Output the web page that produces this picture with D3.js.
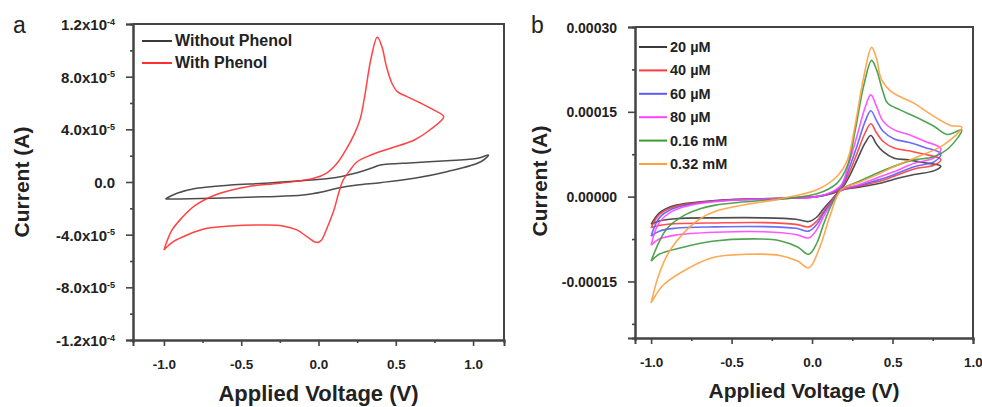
<!DOCTYPE html>
<html><head><meta charset="utf-8">
<script src="https://cdn.jsdelivr.net/npm/d3@7"></script>
<style>
body{margin:0;background:#fff}
svg{display:block;font-family:"Liberation Sans",Arial,sans-serif}
</style></head><body>
<svg id="chart" width="982" height="407"></svg>
<script>
// ---- Panel a: CV with / without phenol (current in units of 1e-5 A) ----
const seriesA = ["Without Phenol", "With Phenol"];
const colorsA = ["#3a3a3a", "#ff3030"];
const withoutPhenol = [
  [-0.99,-1.29],[-0.915,-0.86],[-0.79,-0.48],[-0.57,-0.23],[-0.35,-0.1],[-0.14,0.08],[0.076,0.28],
  [0.25,0.71],[0.34,1.04],[0.40,1.29],[0.615,1.47],[0.83,1.62],[1.03,1.8],[1.10,2.05],
  [1.05,1.54],[0.83,0.78],[0.62,0.28],[0.40,-0.05],[0.25,-0.23],[0.12,-0.48],[0.03,-0.74],
  [-0.10,-0.99],[-0.35,-1.12],[-0.68,-1.24],[-0.9,-1.29],[-0.99,-1.29]
];
const withPhenol = [
  [-1.0,-5.16],[-0.95,-3.7],[-0.89,-2.8],[-0.8,-1.8],[-0.66,-0.95],[-0.46,-0.36],[-0.25,-0.1],
  [-0.03,0.28],[0.05,0.66],[0.12,1.42],[0.18,2.5],[0.23,3.6],[0.27,4.8],[0.30,6.6],[0.34,9.4],
  [0.38,11.0],[0.41,10.3],[0.44,8.75],[0.475,7.5],[0.51,6.86],[0.57,6.5],[0.66,6.0],[0.745,5.47],
  [0.81,4.96],[0.72,3.95],[0.62,3.19],[0.465,2.56],[0.34,2.05],[0.25,1.54],[0.205,0.91],[0.16,0.15],
  [0.13,-0.86],[0.10,-2.13],[0.05,-3.64],[0.02,-4.4],[-0.01,-4.6],[-0.075,-4.15],[-0.14,-3.64],
  [-0.23,-3.34],[-0.35,-3.27],[-0.57,-3.34],[-0.72,-3.52],[-0.85,-4.02],[-0.94,-4.53],[-1.0,-5.16]
];
const xTicksA = [-1.0, -0.5, 0.0, 0.5, 1.0];
const xTickLabelsA = ["-1.0", "-0.5", "0.0", "0.5", "1.0"];
const yTicksA = [1.2e-4, 8e-5, 4e-5, 0, -4e-5, -8e-5, -1.2e-4];
const yTickLabelsA = [["1.2x10","-4"],["8.0x10","-5"],["4.0x10","-5"],["0.0",""],["-4.0x10","-5"],["-8.0x10","-5"],["-1.2x10","-4"]];

// ---- Panel b: CV at several phenol concentrations (units of 1e-5 A) ----
const seriesB = ["20 \u00b5M", "40 \u00b5M", "60 \u00b5M", "80 \u00b5M", "0.16 mM", "0.32 mM"];
const colorsB = ["#3a3a3a", "#ff3b3b", "#5a5aff", "#ff44ff", "#3c9a3c", "#ffa040"];
const c20 = [
  [-1.0,-4.9],[-0.95,-2.9],[-0.87,-1.7],[-0.72,-1.0],[-0.5,-0.5],[-0.2,-0.3],[0.03,0.0],[0.12,0.5],
  [0.18,1.3],[0.23,3.5],[0.28,6.5],[0.33,9.5],[0.365,10.8],[0.40,9.3],[0.44,8.0],[0.51,6.8],
  [0.6,6.5],[0.7,6.0],[0.8,5.4],
  [0.76,4.6],[0.635,3.9],[0.5,3.0],[0.43,2.4],[0.3,1.7],[0.18,1.1],[0.12,-0.6],[0.07,-2.2],
  [0.03,-3.6],[-0.02,-4.4],[-0.1,-4.0],[-0.3,-3.75],[-0.6,-3.75],[-0.85,-3.9],[-0.95,-4.3],[-1.0,-4.9]
];
const c40 = [
  [-1.0,-5.5],[-0.95,-3.2],[-0.87,-1.9],[-0.72,-1.1],[-0.5,-0.55],[-0.2,-0.3],[0.03,0.0],[0.12,0.6],
  [0.18,1.5],[0.23,4.2],[0.28,7.7],[0.33,11.3],[0.365,12.9],[0.40,11.3],[0.44,9.8],[0.51,8.6],
  [0.6,8.1],[0.7,7.5],[0.8,6.6],
  [0.76,5.6],[0.635,4.9],[0.5,3.5],[0.43,2.8],[0.3,1.9],[0.18,1.1],[0.12,-0.8],[0.07,-2.7],
  [0.03,-4.3],[-0.02,-5.35],[-0.1,-4.9],[-0.3,-4.6],[-0.6,-4.65],[-0.85,-4.8],[-0.95,-5.1],[-1.0,-5.5]
];
const c60 = [
  [-1.0,-7.0],[-0.95,-3.8],[-0.87,-2.2],[-0.72,-1.2],[-0.5,-0.6],[-0.2,-0.35],[0.03,0.0],[0.12,0.7],
  [0.18,1.7],[0.23,5.0],[0.28,9.0],[0.33,13.3],[0.365,15.2],[0.40,13.5],[0.44,11.6],[0.51,10.2],
  [0.6,9.6],[0.7,8.7],[0.8,7.6],
  [0.76,6.2],[0.635,5.3],[0.5,3.8],[0.43,3.1],[0.3,2.0],[0.18,1.1],[0.12,-1.0],[0.07,-3.0],
  [0.03,-4.9],[-0.02,-6.1],[-0.1,-5.6],[-0.3,-5.3],[-0.6,-5.35],[-0.85,-5.6],[-0.95,-6.1],[-1.0,-7.0]
];
const c80 = [
  [-1.0,-8.6],[-0.95,-4.6],[-0.87,-2.6],[-0.72,-1.3],[-0.5,-0.65],[-0.2,-0.35],[0.03,0.0],[0.12,0.8],
  [0.18,2.0],[0.23,6.0],[0.28,10.8],[0.33,15.8],[0.365,18.0],[0.40,16.0],[0.44,13.4],[0.51,11.8],
  [0.6,11.0],[0.7,9.8],[0.8,8.5],
  [0.76,6.9],[0.635,5.9],[0.5,4.3],[0.43,3.6],[0.3,2.2],[0.18,1.1],[0.12,-1.2],[0.07,-3.6],
  [0.03,-5.8],[-0.02,-7.3],[-0.1,-6.7],[-0.3,-6.2],[-0.6,-6.3],[-0.85,-6.8],[-0.95,-7.5],[-1.0,-8.6]
];
const c160 = [
  [-1.0,-11.4],[-0.95,-8.0],[-0.9,-5.6],[-0.8,-3.4],[-0.7,-2.2],[-0.6,-1.5],[-0.45,-1.0],[-0.3,-0.65],
  [-0.15,-0.3],[0.03,0.5],[0.156,2.4],[0.22,5.5],[0.27,12.0],[0.32,19.5],[0.37,24.1],[0.40,22.5],
  [0.44,18.6],[0.47,16.5],[0.55,15.3],[0.635,14.2],[0.7,13.3],[0.76,12.4],[0.84,11.0],[0.93,11.8],
  [0.85,8.6],[0.75,7.0],[0.635,6.5],[0.5,5.3],[0.43,4.5],[0.3,2.8],[0.18,1.2],[0.12,-1.5],
  [0.07,-5.0],[0.03,-8.2],[-0.02,-10.2],[-0.09,-8.9],[-0.2,-7.8],[-0.31,-7.5],[-0.62,-7.9],
  [-0.82,-9.1],[-0.95,-10.2],[-1.0,-11.4]
];
const c320 = [
  [-1.0,-18.8],[-0.96,-14.5],[-0.92,-11.5],[-0.88,-9.4],[-0.8,-6.5],[-0.7,-4.0],[-0.6,-2.6],
  [-0.41,-1.4],[-0.2,-0.4],[0.03,1.2],[0.156,3.6],[0.22,6.5],[0.27,13.0],[0.32,21.0],[0.37,26.4],
  [0.40,24.5],[0.43,20.8],[0.49,18.6],[0.56,17.5],[0.635,16.5],[0.74,14.5],[0.86,12.6],[0.93,12.3],
  [0.82,9.2],[0.635,6.8],[0.5,5.2],[0.43,4.2],[0.3,2.6],[0.18,1.2],[0.11,-3.5],[0.05,-8.8],
  [-0.02,-12.6],[-0.09,-11.4],[-0.2,-10.4],[-0.41,-10.2],[-0.62,-10.8],[-0.82,-13.5],[-0.93,-15.8],[-1.0,-18.8]
];
const curvesB = [c20, c40, c60, c80, c160, c320];
const xTicksB = [-1.0, -0.5, 0.0, 0.5, 1.0];
const xTickLabelsB = ["-1.0", "-0.5", "0.0", "0.5", "1.0"];
const yTicksB = [0.0003, 0.00015, 0, -0.00015];
const yTickLabelsB = ["0.00030", "0.00015", "0.00000", "-0.00015"];

const svg = d3.select("#chart");
const axisColor = "#444";
const unit = 1e-5;

function styleAxis(g) {
  g.select(".domain").attr("stroke", axisColor).attr("stroke-width", 2);
  g.selectAll(".tick line").attr("stroke", axisColor).attr("stroke-width", 1.6);
  g.selectAll(".tick text").attr("fill", "#222").attr("font-weight", "bold");
}

function drawPanel(opt) {
  const x = d3.scaleLinear().domain(opt.xDomain).range([opt.left, opt.right]);
  const y = d3.scaleLinear().domain(opt.yDomain).range([opt.bottom, opt.top]);
  const g = svg.append("g");

  // frame (top and right)
  g.append("path")
    .attr("d", `M${opt.left},${opt.top}H${opt.right}V${opt.bottom}`)
    .attr("fill", "none").attr("stroke", axisColor).attr("stroke-width", 2);

  // minor ticks
  g.append("g").attr("transform", `translate(0,${opt.bottom})`)
    .call(d3.axisBottom(x).tickValues(opt.xMinor).tickSize(3).tickFormat(""))
    .call(styleAxis);
  g.append("g").attr("transform", `translate(${opt.left},0)`)
    .call(d3.axisLeft(y).tickValues(opt.yMinor).tickSize(3).tickFormat(""))
    .call(styleAxis);

  // major ticks
  const xa = g.append("g").attr("transform", `translate(0,${opt.bottom})`)
    .call(d3.axisBottom(x).tickValues(opt.xTicks).tickSize(6).tickPadding(13)
      .tickFormat((d, i) => opt.xLabels[i]))
    .call(styleAxis);
  xa.selectAll(".tick text").attr("font-size", 13.5);

  const ya = g.append("g").attr("transform", `translate(${opt.left},0)`)
    .call(d3.axisLeft(y).tickValues(opt.yTicks).tickSize(7).tickPadding(opt.yPad)
      .tickFormat(""))
    .call(styleAxis);
  ya.selectAll(".tick text").each(function (d, i) {
    const t = d3.select(this).attr("font-size", opt.yFont).attr("dy", "0.36em");
    const lab = opt.yLabels[i];
    if (Array.isArray(lab)) {
      t.append("tspan").text(lab[0]);
      if (lab[1]) t.append("tspan").attr("font-size", 9).attr("dy", "-0.6em").text(lab[1]);
    } else {
      t.text(lab);
    }
  });

  // curves
  const line = d3.line()
    .x(d => x(d[0])).y(d => y(d[1] * unit))
    .curve(d3.curveCatmullRom.alpha(0.5));
  g.append("g").selectAll("path").data(opt.curves).join("path")
    .attr("d", line).attr("fill", "none")
    .attr("stroke", (d, i) => opt.colors[i])
    .attr("stroke-width", opt.strokeW).attr("stroke-linejoin", "round")
    .attr("stroke-opacity", 0.9);

  // axis titles
  g.append("text").attr("x", (opt.left + opt.right) / 2 + opt.xTitleDx).attr("y", opt.xTitleY)
    .attr("text-anchor", "middle").attr("font-size", opt.xTitleFont).attr("font-weight", "bold")
    .attr("fill", "#222").text("Applied Voltage (V)");
  g.append("text")
    .attr("transform", `translate(${opt.yTitleX},${opt.yTitleCy}) rotate(-90)`)
    .attr("text-anchor", "middle").attr("font-size", 21).attr("font-weight", "bold")
    .attr("fill", "#222").text("Current (A)");

  // panel letter
  g.append("text").attr("x", opt.letterX).attr("y", 33).attr("font-size", 23)
    .attr("fill", "#222").text(opt.letter);

  // legend
  const lg = g.append("g");
  opt.names.forEach((n, i) => {
    const yy = opt.legY + i * opt.legStep;
    lg.append("line").attr("x1", opt.legX).attr("x2", opt.legX + opt.legLen)
      .attr("y1", yy).attr("y2", yy).attr("stroke", opt.colors[i]).attr("stroke-width", 2);
    lg.append("text").attr("x", opt.legX + opt.legLen + 3).attr("y", yy + 5)
      .attr("font-size", opt.legFont).attr("font-weight", "bold").attr("fill", "#222").text(n);
  });
}

drawPanel({
  left: 133, right: 504, top: 24, bottom: 340,
  xDomain: [-1.2, 1.2], yDomain: [-1.2e-4, 1.2e-4],
  xTicks: xTicksA, xLabels: xTickLabelsA,
  xMinor: [-0.75, -0.25, 0.25, 0.75],
  yTicks: yTicksA, yLabels: yTickLabelsA, yPad: 11, yFont: 15,
  yMinor: [1e-4, 6e-5, 2e-5, -2e-5, -6e-5, -1e-4],
  curves: [withoutPhenol, withPhenol], colors: colorsA, names: seriesA, strokeW: 1.5,
  xTitleY: 401, xTitleDx: 0, xTitleFont: 22, yTitleX: 29, yTitleCy: 182,
  letter: "a", letterX: 13,
  legX: 142, legY: 41, legStep: 22, legLen: 30, legFont: 16
});

drawPanel({
  left: 635, right: 973, top: 27, bottom: 338,
  xDomain: [-1.1, 1.0], yDomain: [-0.00025, 0.0003],
  xTicks: xTicksB, xLabels: xTickLabelsB,
  xMinor: [-0.75, -0.25, 0.25, 0.75],
  yTicks: yTicksB, yLabels: yTickLabelsB, yPad: 11, yFont: 14,
  yMinor: [0.000225, 0.000075, -0.000075, -0.000225],
  curves: curvesB, colors: colorsB, names: seriesB, strokeW: 1.6,
  xTitleY: 398, xTitleDx: 0, xTitleFont: 21, yTitleX: 547, yTitleCy: 181,
  letter: "b", letterX: 531,
  legX: 639, legY: 47, legStep: 23.4, legLen: 28, legFont: 14.5
});
</script></body></html>
